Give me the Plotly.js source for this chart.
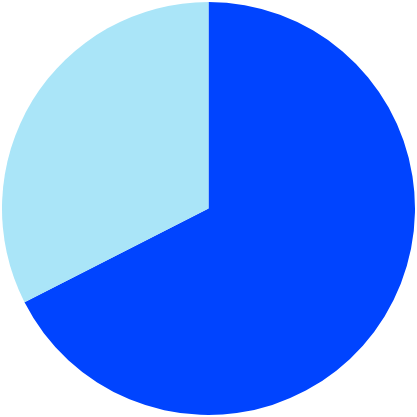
<!DOCTYPE html>
<html>
<head>
<meta charset="utf-8">
<script src="https://cdn.plot.ly/plotly-3.0.1.min.js"></script>
<style>html,body{margin:0;padding:0;background:#fff;}#chart{width:417px;height:417px;}</style>
</head>
<body>
<div id="chart"></div>
<script>
const labels = ["A", "B"];
const values = [67.5, 32.5];
const colors = ["#0044FF", "#AAE5F8"];

Plotly.newPlot("chart", [{
  type: "pie",
  labels: labels,
  values: values,
  sort: false,
  direction: "clockwise",
  rotation: 0,
  textinfo: "none",
  hoverinfo: "none",
  marker: {colors: colors, line: {width: 0}}
}], {
  width: 417,
  height: 417,
  margin: {l: 2, r: 2, t: 2, b: 2},
  showlegend: false,
  paper_bgcolor: "#ffffff"
}, {displayModeBar: false, staticPlot: true});
</script>
</body>
</html>
